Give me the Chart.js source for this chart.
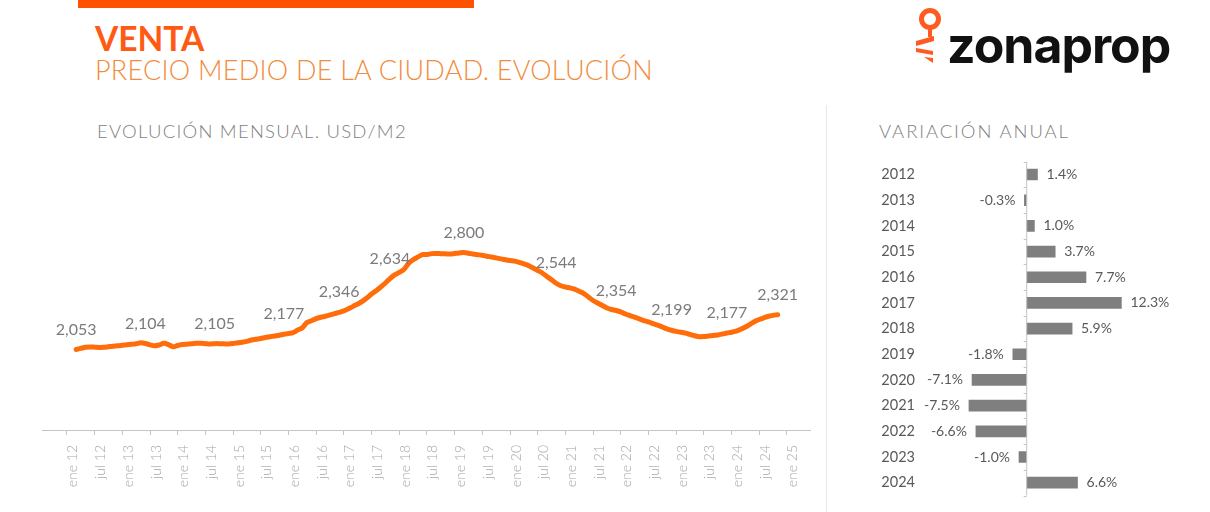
<!DOCTYPE html>
<html lang="es">
<head>
<meta charset="utf-8">
<title>Venta - precio medio</title>
<script src="https://cdn.jsdelivr.net/npm/chart.js@4.4.1/dist/chart.umd.min.js"></script>
<style>
  html, body { margin: 0; padding: 0; background: #fff; }
  body { width: 1210px; height: 512px; position: relative; overflow: hidden; font-family: Lato, sans-serif; }
  .abs { position: absolute; white-space: nowrap; }
  #topBar { left: 78px; top: 0; width: 396px; height: 8px; background: #ff5200; }
  #title { left: 95px; top: 22px; font: 700 33.5px/33px Lato; color: #ff5a14; }
  #subtitle { left: 95px; top: 56px; font: 300 27px/27px Lato; color: #f28c3c; letter-spacing: 0.25px; }
  .section { font: 300 18.5px/18px Lato; color: #7f7f7f; letter-spacing: 1.25px; top: 122px; }
  #secLeft { left: 97px; }
  #secRight { left: 879px; letter-spacing: 1.9px; }
  #logo { left: 947px; top: 20px; font: 700 50px/50px Inter; color: #111; letter-spacing: -1px; }
  #sep { left: 826px; top: 105px; width: 1px; height: 407px; background: #e8e8e8; }
  #lineChart { left: 0; top: 150px; }
  #barChart { left: 830px; top: 150px; }
</style>
</head>
<body>
<div id="topBar" class="abs"></div>
<div id="title" class="abs">VENTA</div>
<div id="subtitle" class="abs">PRECIO MEDIO DE LA CIUDAD. EVOLUCIÓN</div>
<div id="secLeft" class="abs section">EVOLUCIÓN MENSUAL. USD/M2</div>
<div id="secRight" class="abs section">VARIACIÓN ANUAL</div>
<svg class="abs" style="left:0;top:0" width="1210" height="80">
  <circle cx="930" cy="19" r="8.5" fill="none" stroke="#ff5a1f" stroke-width="5"/>
  <rect x="928" y="27" width="4" height="10" fill="#ff5a1f"/>
  <polygon points="916,41 934,36 934,41 916,46" fill="#ff5a1f"/>
  <polygon points="916,48 933,51 933,55 916,52" fill="#ff5a1f"/>
  <polygon points="924,57 933,58 933,63" fill="#ff5a1f"/>
</svg>
<div id="logo" class="abs">zonaprop</div>
<div id="sep" class="abs"></div>
<canvas id="lineChart" class="abs" width="826" height="362"></canvas>
<canvas id="barChart" class="abs" width="380" height="362"></canvas>

<script>
// monthly price, USD/m2 (first value = mar 12)
const startMonth = 2;
const precio = [
  2053, 2061, 2070, 2072, 2071, 2069, 2070, 2074, 2078, 2081,
  2085, 2089, 2093, 2097, 2104, 2099, 2089, 2081, 2088, 2101,
  2091, 2074, 2084, 2091, 2094, 2097, 2101, 2101, 2098, 2095,
  2098, 2098, 2097, 2095, 2099, 2105, 2109, 2115, 2126, 2132,
  2138, 2145, 2151, 2157, 2163, 2170, 2176, 2183, 2203, 2220,
  2261, 2274, 2290, 2301, 2309, 2319, 2329, 2339, 2350, 2366,
  2385, 2403, 2423, 2450, 2480, 2506, 2534, 2565, 2599, 2627,
  2646, 2669, 2715, 2744, 2764, 2784, 2784, 2791, 2793, 2791,
  2790, 2788, 2792, 2796, 2799, 2794, 2788, 2783, 2778, 2771,
  2765, 2758, 2751, 2744, 2738, 2733, 2724, 2712, 2699, 2681,
  2661, 2642, 2615, 2590, 2563, 2544, 2534, 2527, 2517, 2501,
  2484, 2457, 2430, 2411, 2392, 2373, 2361, 2353, 2342, 2326,
  2314, 2302, 2288, 2276, 2265, 2252, 2240, 2226, 2212, 2201,
  2192, 2186, 2179, 2169, 2159, 2151, 2153, 2157, 2161, 2165,
  2172, 2180, 2186, 2195, 2209, 2226, 2247, 2269, 2284, 2297,
  2309, 2316, 2321
];

// tick labels every 6 months starting at ene 12
const tickLabels = [
  'ene 12', 'jul 12', 'ene 13', 'jul 13', 'ene 14', 'jul 14', 'ene 15', 'jul 15',
  'ene 16', 'jul 16', 'ene 17', 'jul 17', 'ene 18', 'jul 18', 'ene 19', 'jul 19',
  'ene 20', 'jul 20', 'ene 21', 'jul 21', 'ene 22', 'jul 22', 'ene 23', 'jul 23',
  'ene 24', 'jul 24', 'ene 25'
];

// value callouts on the line
const labelMonths = [2, 17, 32, 47, 59, 70, 86, 106, 119, 131, 143, 154];
const labelTexts = ['2,053', '2,104', '2,105', '2,177', '2,346', '2,634', '2,800', '2,544', '2,354', '2,199', '2,177', '2,321'];

// yearly variation
const years = ['2012', '2013', '2014', '2015', '2016', '2017', '2018', '2019', '2020', '2021', '2022', '2023', '2024'];
const variacion = [1.4, -0.3, 1.0, 3.7, 7.7, 12.3, 5.9, -1.8, -7.1, -7.5, -6.6, -1.0, 6.6];

Chart.defaults.font.family = 'Lato';
Chart.defaults.animation = false;

const lineLabels = {
    id: 'lineLabels',
    afterDatasetsDraw(chart) {
        const { ctx, scales: { x, y } } = chart;
        ctx.save();
        ctx.font = '16px Lato';
        ctx.fillStyle = '#7b7b7b';
        ctx.textAlign = 'center';
        ctx.textBaseline = 'middle';
        labelMonths.forEach((m, i) => {
            const v = precio[m - startMonth];
            ctx.fillText(labelTexts[i], x.getPixelForValue(m), y.getPixelForValue(v) - 20);
        });
        ctx.restore();
    }
};

new Chart(document.getElementById('lineChart'), {
    type: 'line',
    data: {
        datasets: [{
            data: precio.map((v, i) => ({ x: startMonth + i, y: v })),
            borderColor: '#ff6d0a',
            borderWidth: 5,
            borderCapStyle: 'round',
            borderJoinStyle: 'round',
            pointRadius: 0,
            tension: 0.3,
            fill: false
        }]
    },
    options: {
        responsive: false,
        layout: { padding: { left: 42, right: 16, top: 0, bottom: 0 } },
        plugins: { legend: { display: false }, tooltip: { enabled: false } },
        scales: {
            x: {
                type: 'linear',
                min: -5.4,
                max: 161,
                afterBuildTicks: (s) => { s.ticks = tickLabels.map((_, i) => ({ value: i * 6 })); },
                afterFit: (s) => { s.height = 82; },
                grid: { drawOnChartArea: false, drawTicks: true, tickLength: 5, color: '#c4c4c4' },
                border: { color: '#c4c4c4', width: 1 },
                ticks: {
                    autoSkip: false,
                    minRotation: 90,
                    maxRotation: 90,
                    padding: 10,
                    labelOffset: 6,
                    color: '#a6a6a6',
                    font: { size: 14, weight: 300 },
                    callback: (v) => tickLabels[Math.round(v / 6)]
                }
            },
            y: { display: false, min: 1433, max: 3589 }
        }
    },
    plugins: [lineLabels]
});

const barExtras = {
    id: 'barExtras',
    afterDatasetsDraw(chart) {
        const { ctx, scales: { x, y }, chartArea } = chart;
        const x0 = x.getPixelForValue(0);
        ctx.save();
        ctx.strokeStyle = '#c4c4c4';
        ctx.lineWidth = 1;
        ctx.beginPath();
        ctx.moveTo(x0, chartArea.top);
        ctx.lineTo(x0, chartArea.bottom);
        for (let i = 0; i <= years.length; i++) {
            const yy = Math.round(y.getPixelForValue(i - 0.5)) + 0.5;
            ctx.moveTo(x0 - 3, yy);
            ctx.lineTo(x0, yy);
        }
        ctx.stroke();

        ctx.font = '14px Lato';
        ctx.fillStyle = '#595959';
        ctx.textBaseline = 'middle';
        chart.getDatasetMeta(0).data.forEach((bar, i) => {
            const v = variacion[i];
            const txt = v.toFixed(1) + '%';
            if (v >= 0) {
                ctx.textAlign = 'left';
                ctx.fillText(txt, bar.x + 9, bar.y);
            } else {
                ctx.textAlign = 'right';
                ctx.fillText(txt, bar.x - 9, bar.y);
            }
        });
        ctx.restore();
    }
};

new Chart(document.getElementById('barChart'), {
    type: 'bar',
    data: {
        labels: years,
        datasets: [{
            data: variacion,
            backgroundColor: '#7f7f7f',
            barThickness: 11
        }]
    },
    options: {
        responsive: false,
        indexAxis: 'y',
        layout: { padding: { left: 0, right: 10, top: 11.5, bottom: 16.5 } },
        plugins: { legend: { display: false }, tooltip: { enabled: false } },
        scales: {
            x: { display: false, min: -13.08, max: 22.51 },
            y: {
                afterFit: (s) => { s.width = 96; },
                grid: { display: false },
                border: { display: false },
                ticks: { padding: 3, color: '#595959', font: { size: 14.5 } }
            }
        }
    },
    plugins: [barExtras]
});
</script>
</body>
</html>
